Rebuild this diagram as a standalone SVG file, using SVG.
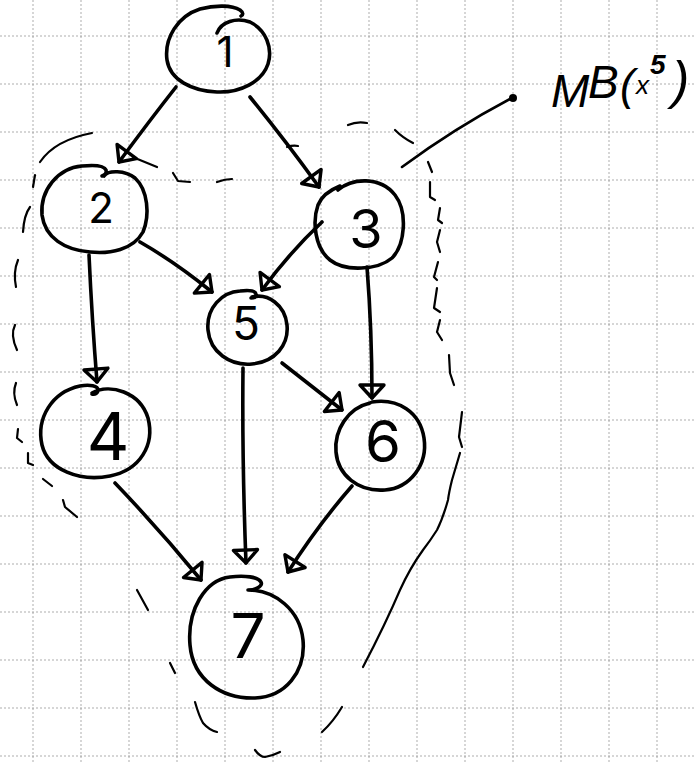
<svg xmlns="http://www.w3.org/2000/svg" width="695" height="763" viewBox="0 0 695 763">
  <defs>
    <style>
      .grid line { stroke: #8c8c8c; stroke-width: 1; stroke-dasharray: 2 2; opacity: 0.7; }
      .ring { fill: none; stroke: #000; stroke-width: 3.6; stroke-linecap: round; stroke-linejoin: round; }
      .digit { font-family: "Inter", "Open Sans", "Liberation Sans", sans-serif; font-weight: 400; fill: #000; text-anchor: middle; }
      .edge { fill: none; stroke: #000; stroke-width: 3.6; stroke-linecap: round; marker-end: url(#head); }
      .blanket { fill: none; stroke: #000; stroke-width: 2.2; stroke-linecap: round; stroke-linejoin: round; }
      .note { font-family: "Liberation Sans", sans-serif; font-style: italic; fill: #000; }
    </style>
    <marker id="head" markerUnits="userSpaceOnUse" markerWidth="34" markerHeight="34" viewBox="-22 -17 34 34" refX="0" refY="0" orient="auto">
      <path d="M-13,-12 L0,0 L-13,12 Z" fill="none" stroke="#000" stroke-width="3.4" stroke-linejoin="round"/>
    </marker>
  </defs>

  <rect width="695" height="763" fill="#fff"/>

  <!-- squared paper -->
  <g class="grid">
    <line x1="33" y1="0" x2="33" y2="763"/>
    <line x1="81" y1="0" x2="81" y2="763"/>
    <line x1="129" y1="0" x2="129" y2="763"/>
    <line x1="177" y1="0" x2="177" y2="763"/>
    <line x1="225" y1="0" x2="225" y2="763"/>
    <line x1="273" y1="0" x2="273" y2="763"/>
    <line x1="321" y1="0" x2="321" y2="763"/>
    <line x1="369" y1="0" x2="369" y2="763"/>
    <line x1="417" y1="0" x2="417" y2="763"/>
    <line x1="465" y1="0" x2="465" y2="763"/>
    <line x1="513" y1="0" x2="513" y2="763"/>
    <line x1="561" y1="0" x2="561" y2="763"/>
    <line x1="609" y1="0" x2="609" y2="763"/>
    <line x1="657" y1="0" x2="657" y2="763"/>
    <line x1="0" y1="36" x2="695" y2="36"/>
    <line x1="0" y1="84" x2="695" y2="84"/>
    <line x1="0" y1="132" x2="695" y2="132"/>
    <line x1="0" y1="180" x2="695" y2="180"/>
    <line x1="0" y1="228" x2="695" y2="228"/>
    <line x1="0" y1="276" x2="695" y2="276"/>
    <line x1="0" y1="324" x2="695" y2="324"/>
    <line x1="0" y1="372" x2="695" y2="372"/>
    <line x1="0" y1="420" x2="695" y2="420"/>
    <line x1="0" y1="468" x2="695" y2="468"/>
    <line x1="0" y1="516" x2="695" y2="516"/>
    <line x1="0" y1="564" x2="695" y2="564"/>
    <line x1="0" y1="612" x2="695" y2="612"/>
    <line x1="0" y1="660" x2="695" y2="660"/>
    <line x1="0" y1="708" x2="695" y2="708"/>
    <line x1="0" y1="756" x2="695" y2="756"/>
  </g>

  <!-- dashed blanket around node 5's neighbours -->
  <g id="blanket" class="blanket">
    <path d="M40,162 Q55,140 92,133"/>
    <path d="M135,158 L157,167"/>
    <path d="M173,173 L178,181 L190,182"/>
    <path d="M217,182 Q225,179 232,179"/>
    <path d="M287,147 Q293,145 298,146"/>
    <path d="M348,125 Q357,121 367,123"/>
    <path d="M395,130 Q403,138 413,143"/>
    <path d="M428,162 L432,172"/>
    <path d="M430,182 L430,197 L435,200"/>
    <path d="M440,208 L438,220 L442,223"/>
    <path d="M440,230 L437,242 L440,252"/>
    <path d="M438,262 L434,277 L437,280"/>
    <path d="M437,288 L434,308 L440,312"/>
    <path d="M440,320 L437,332 L442,340"/>
    <path d="M449,355 L450,373 L454,385"/>
    <path d="M462,412 L459,437 L462,447"/>
    <path d="M460,453 Q455,470 452,480 Q449,492 448,500 Q443,518 437,530 Q430,541 423,550 Q410,568 400,590 Q385,625 363,667"/>
    <path d="M342,707 Q333,722 322,732"/>
    <path d="M255,750 Q260,757 265,757 Q272,756 280,752"/>
    <path d="M195,702 Q199,716 203,723 Q209,730 217,732"/>
    <path d="M170,663 L175,673"/>
    <path d="M137,590 L148,610"/>
    <path d="M63,500 L65,507 L77,517"/>
    <path d="M43,479 L52,486"/>
    <path d="M28,453 L28,463 L33,465"/>
    <path d="M18,429 L17,438 L22,442"/>
    <path d="M16,383 Q12,393 17,405"/>
    <path d="M15,325 Q10,335 17,350"/>
    <path d="M18,260 Q13,272 16,287"/>
    <path d="M30,207 Q24,215 23,232"/>
    <path d="M35,175 L33,187"/>
  </g>

  <!-- pointer and caption -->
  <g id="caption">
    <path d="M402,167 Q455,128 510,99" fill="none" stroke="#000" stroke-width="2.6" stroke-linecap="round"/>
    <circle cx="513" cy="98" r="4" fill="#000"/>
    <text class="note"><tspan x="551" y="107" font-size="46">M</tspan><tspan x="588" y="98" font-size="46">B</tspan><tspan x="620" y="100" font-size="44">(</tspan><tspan x="636" y="94" font-size="26">x</tspan><tspan x="650" y="74" font-size="28" font-weight="bold">5</tspan><tspan x="672" y="98" font-size="52">)</tspan></text>
  </g>

  <!-- connectors -->
  <g id="edges">
    <path class="edge" d="M176,87 Q150,120 119,162"/>
    <path class="edge" d="M250,97 Q285,140 319,187"/>
    <path class="edge" d="M140,242 Q175,262 212,292"/>
    <path class="edge" d="M322,222 Q290,252 262,290"/>
    <path class="edge" d="M367,267 Q372,330 372,398"/>
    <path class="edge" d="M282,363 Q310,385 342,410"/>
    <path class="edge" d="M89,255 Q92,320 97,382"/>
    <path class="edge" d="M243,368 Q242,460 246,563"/>
    <path class="edge" d="M115,483 Q160,530 201,580"/>
    <path class="edge" d="M352,486 Q318,525 288,572"/>
  </g>

  <!-- nodes -->
  <g id="node1">
    <path class="ring" d="M217,33 C221,22 236,17 250,22 C266,30 273,48 268,64 C262,82 240,93 217,92 C192,91 170,80 167,60 C164,38 178,16 200,9 C215,5 232,5 240,10 C244,13 243,15 241,16"/>
    <text class="digit" x="225" y="67" font-size="42">1</text>
  </g>
  <g id="node2">
    <path class="ring" d="M104,176 C108,170 125,170 135,178 C148,190 150,215 143,232 C133,250 110,254 90,252 C65,250 45,238 42,215 C40,190 58,168 82,166 C92,165 104,165 106,170 C107,173 105,175 102,176"/>
    <text class="digit" x="101" y="223" font-size="42">2</text>
  </g>
  <g id="node3">
    <path class="ring" d="M338,190 C352,178 380,176 395,195 C408,212 405,245 392,258 C378,270 345,272 330,260 C315,248 312,222 318,205 C322,195 330,190 340,186"/>
    <text class="digit" x="366" y="248" font-size="54">3</text>
  </g>
  <g id="node5">
    <path class="ring" d="M252,297 C268,293 285,305 287,325 C289,345 275,362 252,364 C230,366 210,352 208,330 C206,308 222,292 240,291 C248,290 255,290 256,294 C257,297 254,298 251,298"/>
    <text class="digit" x="246" y="340" font-size="46">5</text>
  </g>
  <g id="node4">
    <path class="ring" d="M92,393 C110,383 140,392 148,418 C155,445 140,470 110,476 C80,482 48,470 42,445 C36,418 52,392 80,386 C90,384 98,386 98,390 C98,393 95,395 92,394"/>
    <text class="digit" x="108" y="460" font-size="66">4</text>
  </g>
  <g id="node6">
    <path class="ring" d="M372,402 C398,398 420,412 424,438 C428,465 410,488 385,490 C358,492 338,475 336,452 C334,430 348,408 370,403"/>
    <text class="digit" x="383" y="462" font-size="58">6</text>
  </g>
  <g id="node7">
    <path class="ring" d="M248,590 C275,590 300,610 303,640 C306,672 285,697 255,698 C222,699 193,680 190,645 C187,610 205,580 230,577 C245,575 258,577 261,582 C263,586 256,590 248,590"/>
    <text class="digit" x="248" y="658" font-size="62">7</text>
  </g>
</svg>
